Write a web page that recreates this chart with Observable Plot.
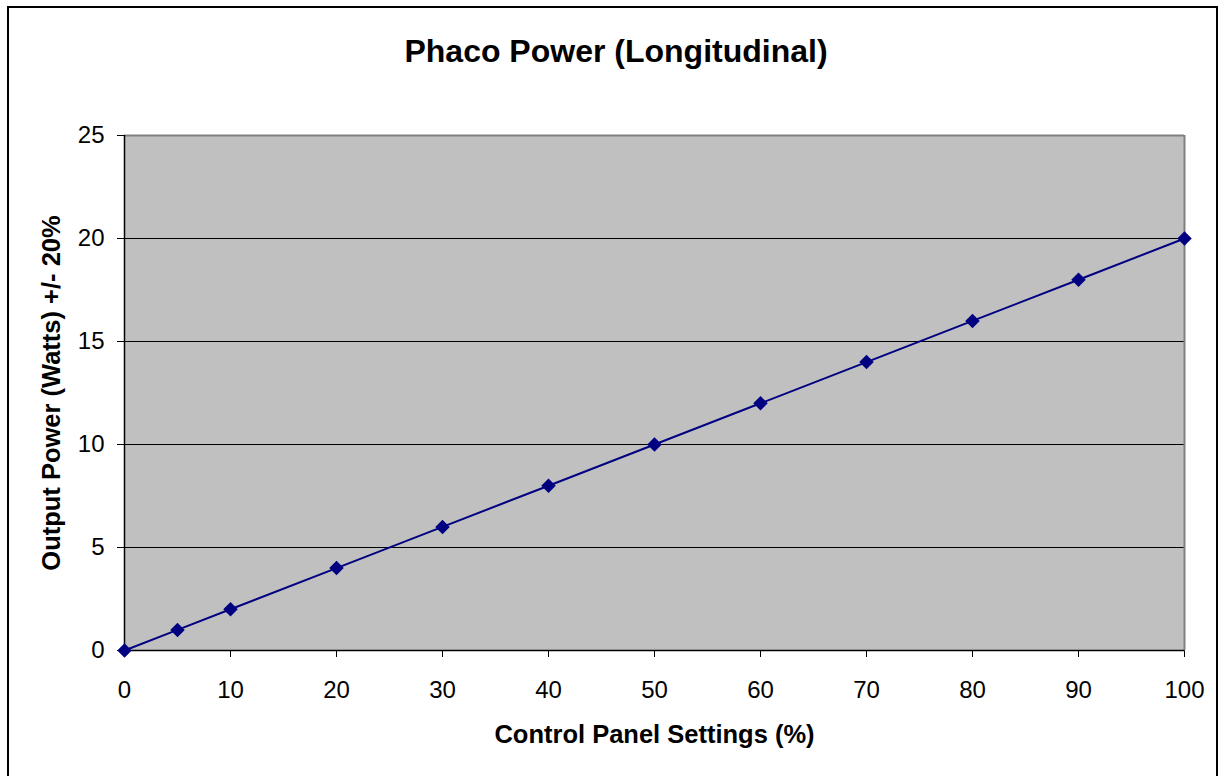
<!DOCTYPE html>
<html>
<head>
<meta charset="utf-8">
<script src="https://cdn.jsdelivr.net/npm/d3@7"></script>
<script src="https://cdn.jsdelivr.net/npm/@observablehq/plot@0.6"></script>
<style>
  html, body { margin: 0; padding: 0; background: #fff; }
  #wrap { position: relative; width: 1225px; height: 776px; overflow: hidden; }
  #border { position: absolute; left: 7px; top: 6px; width: 1211px; height: 800px; border: 2px solid #000; box-sizing: border-box; }
  #title { position: absolute; left: 0; width: 1232px; top: 33px; text-align: center;
           font: bold 32px "Liberation Sans", Arial, sans-serif; color: #000; }
  #chart { position: absolute; left: 0; top: 0; }
  svg text { font-family: "Liberation Sans", Arial, sans-serif; }
</style>
</head>
<body>
<div id="wrap">
  <div id="border"></div>
  <div id="title">Phaco Power (Longitudinal)</div>
  <div id="chart"></div>
</div>
<script>
const settings = [0, 5, 10, 20, 30, 40, 50, 60, 70, 80, 90, 100];
const watts    = [0, 1, 2, 4, 6, 8, 10, 12, 14, 16, 18, 20];
const xTicks = [0, 10, 20, 30, 40, 50, 60, 70, 80, 90, 100];
const yTicks = [0, 5, 10, 15, 20, 25];
const gridLines = [5, 10, 15, 20];

const data = settings.map((s, i) => ({x: s, y: watts[i]}));

const chart = Plot.plot({
  width: 1225,
  height: 776,
  marginLeft: 124,
  marginRight: 41,
  marginTop: 135,
  marginBottom: 126,
  style: {background: "transparent", fontSize: "24px", color: "#000"},
  x: {domain: [0, 100], ticks: xTicks, tickSize: 7, tickPadding: 23,
      label: "Control Panel Settings (%)", labelAnchor: "center", labelArrow: "none", labelOffset: 92},
  y: {domain: [0, 25], ticks: yTicks, tickSize: 7, tickPadding: 13,
      label: "Output Power (Watts) +/- 20%", labelAnchor: "center", labelArrow: "none", labelOffset: 83},
  marks: [
    Plot.frame({fill: "#c0c0c0", stroke: null}),
    Plot.ruleY(gridLines, {stroke: "#000", strokeWidth: 1}),
    Plot.ruleY([25], {stroke: "#808080", strokeWidth: 2}),
    Plot.ruleX([100], {stroke: "#808080", strokeWidth: 2}),
    Plot.ruleX([0], {stroke: "#000", strokeWidth: 1.5}),
    Plot.ruleY([0], {stroke: "#000", strokeWidth: 1.5}),
    Plot.line(data, {x: "x", y: "y", stroke: "#000080", strokeWidth: 2}),
    Plot.dot(data, {x: "x", y: "y", symbol: "square", rotate: 45, r: 5.8, fill: "#000080", stroke: null})
  ]
});
document.getElementById("chart").appendChild(chart);

// style axis labels bold
d3.select(chart).selectAll("[aria-label='x-axis label'] text, [aria-label='y-axis label'] text")
  .attr("font-weight", "bold").attr("font-size", "25.5px");
</script>
</body>
</html>
